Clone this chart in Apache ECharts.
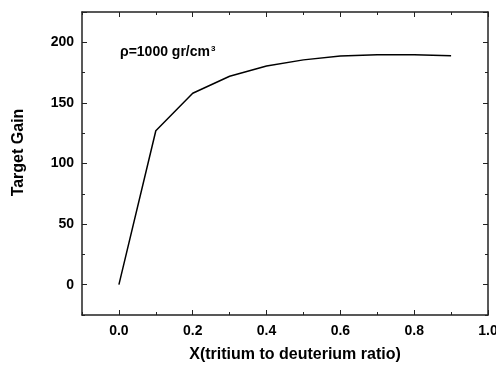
<!DOCTYPE html>
<html><head><meta charset="utf-8">
<script src="https://cdn.jsdelivr.net/npm/echarts@6/dist/echarts.min.js"></script>
<style>html,body{margin:0;padding:0;background:#fff;}#c{width:496px;height:366px;}</style>
</head><body><div id="c"></div>
<script>
const xValues = [0.0, 0.1, 0.2, 0.3, 0.4, 0.5, 0.6, 0.7, 0.8, 0.9];
const gainValues = [0, 127, 158, 172, 180.5, 185.5, 188.7, 189.8, 189.8, 188.9];
const xTitle = 'X(tritium to deuterium ratio)';
const yTitle = 'Target Gain';
const noteMain = 'ρ=1000 gr/cm';
const noteSup = '3';

const FONT = 'Liberation Sans, Arial, sans-serif';
const AX = '#222';
const chart = echarts.init(document.getElementById('c'), null, {renderer: 'canvas'});

const L = 82, R = 8, T = 12, B = 51;
const plotH = 366 - T - B;
const pxPerUnitY = plotH / 250;
const zeroY = T + 225 * pxPerUnitY;
const plotW = 496 - L - R;
const zeroX = L + 0.1 * plotW / 1.1;

const hidden = {show: false};
function minorX(pos, extra) {
  return Object.assign({type: 'value', gridIndex: 0, position: pos, min: -0.1, max: 1.0, interval: 0.1,
    axisLine: {show: true, onZero: false, lineStyle: {color: AX, width: 1.5}},
    axisTick: {show: true, inside: true, length: 3, lineStyle: {color: AX, width: 1}},
    axisLabel: hidden, splitLine: hidden}, extra || {});
}
function minorY(pos, extra) {
  return Object.assign({type: 'value', gridIndex: 0, position: pos, min: -25, max: 225, interval: 25,
    axisLine: {show: true, onZero: false, lineStyle: {color: AX, width: 1.5}},
    axisTick: {show: true, inside: true, length: 3, lineStyle: {color: AX, width: 1}},
    axisLabel: hidden, splitLine: hidden}, extra || {});
}
function majorTicks(grid, pos, min, max, interval, label) {
  return {type: 'value', gridIndex: grid, position: pos, min: min, max: max, interval: interval,
    axisLine: {show: false, onZero: false},
    axisTick: {show: true, inside: true, length: 5, lineStyle: {color: AX, width: 1}},
    axisLabel: label || hidden, splitLine: hidden};
}
const gridBase = {outerBoundsMode: 'none', containLabel: false};

const option = {
  backgroundColor: '#fff',
  animation: false,
  grid: [
    Object.assign({left: L, right: R, top: T, bottom: B}, gridBase),
    Object.assign({left: L, right: R, top: T, bottom: 366 - zeroY}, gridBase),
    Object.assign({left: zeroX, right: R, top: T, bottom: B}, gridBase)
  ],
  xAxis: [
    minorX('bottom', {name: xTitle, nameLocation: 'middle', nameGap: 32,
      nameTextStyle: {fontFamily: FONT, fontWeight: 'bold', fontSize: 16, color: '#000', padding: [0, 0, 0, 20]}}),
    minorX('top'),
    {type: 'value', gridIndex: 1, min: 0, max: 1, show: false},
    majorTicks(2, 'bottom', 0, 1.0, 0.2, {show: true, margin: 9, fontFamily: FONT, fontWeight: 'bold',
      fontSize: 14, color: '#000', formatter: v => v.toFixed(1)}),
    majorTicks(2, 'top', 0, 1.0, 0.2)
  ],
  yAxis: [
    minorY('left', {name: yTitle, nameLocation: 'middle', nameGap: 55, nameRotate: 90,
      nameTextStyle: {fontFamily: FONT, fontWeight: 'bold', fontSize: 16, color: '#000', padding: [0, 0, 0, 22]}}),
    minorY('right'),
    majorTicks(1, 'left', 0, 225, 50, {show: true, margin: 8, fontFamily: FONT, fontWeight: 'bold',
      fontSize: 14, color: '#000', formatter: v => (v <= 200 ? String(v) : '')}),
    majorTicks(1, 'right', 0, 225, 50),
    {type: 'value', gridIndex: 2, min: 0, max: 1, show: false}
  ],
  graphic: [
    {type: 'text', left: 120, top: 45, style: {
      text: '{a|' + noteMain + '}{s|' + noteSup + '}',
      rich: {
        a: {fontFamily: FONT, fontWeight: 'bold', fontSize: 14, fill: '#000', color: '#000'},
        s: {fontFamily: FONT, fontWeight: 'bold', fontSize: 8, fill: '#000', color: '#000', verticalAlign: 'top', padding: [0, 0, 0, 1]}
      }
    }}
  ],
  series: [{
    type: 'line', xAxisIndex: 0, yAxisIndex: 0,
    data: xValues.map((x, i) => [x, gainValues[i]]),
    showSymbol: false, symbol: 'none',
    lineStyle: {color: '#000', width: 1.5}
  }]
};
chart.setOption(option);
</script></body></html>
